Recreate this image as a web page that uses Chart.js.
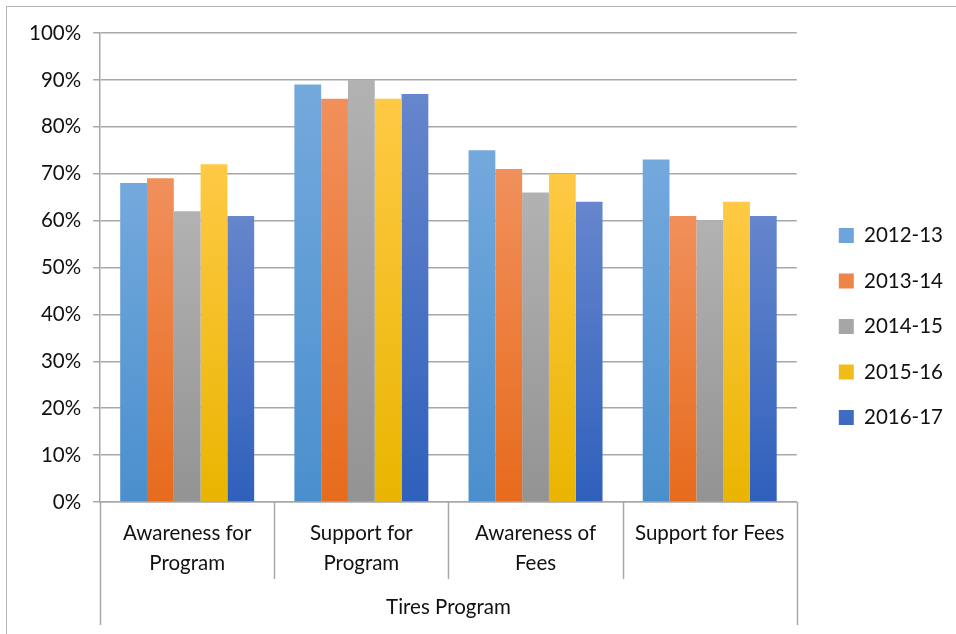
<!DOCTYPE html>
<html>
<head>
<meta charset="utf-8">
<script src="https://cdn.jsdelivr.net/npm/chart.js@4/dist/chart.umd.min.js"></script>
<style>
  html, body { margin: 0; padding: 0; background: #fff; overflow: hidden; }
  #wrap { position: relative; width: 956px; height: 634px; }
  #frame { position: absolute; left: 6px; top: 6px; width: 960px; height: 640px; border: 1.5px solid #b4b4b4; box-sizing: border-box; pointer-events: none; }
  canvas { position: absolute; left: 0; top: 0; }
</style>
</head>
<body>
<div id="wrap">
  <canvas id="chart" width="956" height="634"></canvas>
  <div id="frame"></div>
</div>
<script>
const categories = [["Awareness for", "Program"], ["Support for", "Program"], ["Awareness of", "Fees"], "Support for Fees"];
const groupLabel = "Tires Program";
const years = ["2012-13", "2013-14", "2014-15", "2015-16", "2016-17"];

const y2012 = [68, 89, 75, 73];
const y2013 = [69, 86, 71, 61];
const y2014 = [62, 90, 66, 60];
const y2015 = [72, 86, 70, 64];
const y2016 = [61, 87, 64, 61];

// light top / deep bottom, like the office gradient fill
const shades = [
  ["#74a9dd", "#4a8fcd"],
  ["#f1905c", "#e76b1c"],
  ["#b2b2b2", "#939393"],
  ["#ffc945", "#e9b500"],
  ["#6686cd", "#2f60bc"]
];

const FONT = "Lato, 'Open Sans', sans-serif";
const FS = 20.5;

function barFill(i) {
  return (ctx) => {
    const chart = ctx.chart;
    if (ctx.type !== "data" || !chart.chartArea) return shades[i][1];
    const ys = chart.scales.y;
    const g = chart.ctx.createLinearGradient(0, ys.getPixelForValue(ctx.raw), 0, ys.getPixelForValue(0));
    g.addColorStop(0, shades[i][0]);
    g.addColorStop(1, shades[i][1]);
    return g;
  };
}

const series = [y2012, y2013, y2014, y2015, y2016];

// category dividers below the axis, outer ones run through the group row
const dividers = {
  id: "dividers",
  afterDraw(chart) {
    const xs = chart.scales.x;
    const c = chart.ctx;
    const n = categories.length;
    const base = chart.chartArea.bottom;
    c.save();
    c.strokeStyle = "#a8a8a8";
    c.lineWidth = 1.5;
    for (let i = 0; i <= n; i++) {
      const x = Math.round(xs.getPixelForValue(i - 0.5)) + 0.5;
      const end = (i === 0 || i === n) ? base + 123 : base + 77;
      c.beginPath();
      c.moveTo(x, base);
      c.lineTo(x, end);
      c.stroke();
    }
    c.restore();
  }
};

new Chart(document.getElementById("chart").getContext("2d"), {
  type: "bar",
  data: {
    labels: categories,
    datasets: years.map((y, i) => ({
      label: y,
      data: series[i],
      backgroundColor: barFill(i),
      borderWidth: 0,
      categoryPercentage: 5 / 6.5,
      barPercentage: 1
    }))
  },
  options: {
    responsive: false,
    animation: false,
    layout: { padding: { left: 17, top: 33, right: 3, bottom: 14 } },
    plugins: {
      tooltip: { enabled: false },
      legend: {
        position: "right",
        labels: {
          boxWidth: 15,
          boxHeight: 15,
          padding: 25,
          color: "#111",
          font: { family: FONT, size: FS }
        }
      }
    },
    scales: {
      x: {
        grid: { display: false },
        border: { display: true, color: "#a8a8a8", width: 1.5 },
        ticks: {
          color: "#111",
          padding: 9,
          font: { family: FONT, size: FS, lineHeight: 1.45 }
        },
        title: {
          display: true,
          text: groupLabel,
          color: "#111",
          padding: { top: 8, bottom: 0 },
          font: { family: FONT, size: FS }
        }
      },
      y: {
        min: 0,
        max: 100,
        ticks: {
          stepSize: 10,
          color: "#111",
          padding: 12,
          font: { family: FONT, size: FS },
          callback: (v) => v + "%"
        },
        grid: { color: "#a8a8a8", lineWidth: 1.5, tickLength: 7 },
        border: { display: true, color: "#a8a8a8", width: 1.5 }
      },
      // empty spacer between the plot and the legend
      gap: {
        position: "right",
        grid: { display: false },
        border: { display: false },
        ticks: { display: false },
        afterFit: (s) => { s.width = 17; }
      }
    }
  },
  plugins: [dividers]
});
</script>
</body>
</html>
